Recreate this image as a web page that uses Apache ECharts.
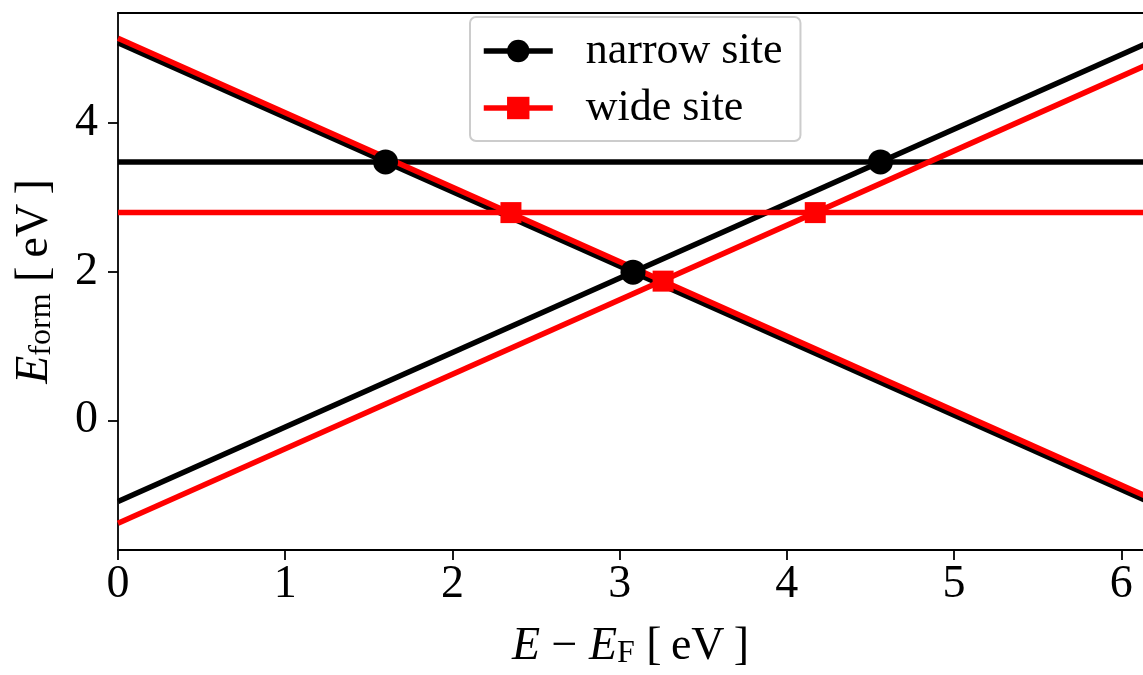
<!DOCTYPE html>
<html>
<head>
<meta charset="utf-8">
<script src="https://cdn.jsdelivr.net/npm/echarts@6/dist/echarts.min.js"></script>
<style>
  html, body { margin: 0; padding: 0; background: #fff; }
  #chart { width: 1143px; height: 675px; }
</style>
</head>
<body>
<div id="chart"></div>
<script>
// Formation energy of the two sites versus Fermi level position
const xEnds = [0, 6.2];

// narrow site: falling branch, rising branch, flat branch
const narrowFalling = [5.07, -1.13];
const narrowRising = [-1.09, 5.11];
const narrowFlat = [3.47, 3.47];
const narrowCrossings = [[1.60, 3.47], [3.08, 1.99], [4.56, 3.47]];

// wide site
const wideFalling = [5.13, -1.07];
const wideRising = [-1.38, 4.82];
const wideFlat = [2.79, 2.79];
const wideCrossings = [[2.35, 2.79], [3.26, 1.87], [4.17, 2.79]];

const xTicks = [0, 1, 2, 3, 4, 5, 6];
const yTicks = [0, 2, 4];

const FONT = 'Liberation Serif';
const BLACK = '#000000';
const RED = '#ff0000';
const LINE_W = 5.5;

function pairs(ys) {
  return xEnds.map((x, i) => [x, ys[i]]);
}

function lineSeries(name, ys, color, symbol, z) {
  return {
    name: name,
    type: 'line',
    data: pairs(ys),
    symbol: symbol,
    showSymbol: false,
    symbolSize: 22,
    itemStyle: { color: color },
    lineStyle: { color: color, width: LINE_W },
    clip: true,
    silent: true,
    animation: false,
    z: z
  };
}

function markerSeries(name, pts, color, symbol, size) {
  return {
    name: name,
    type: 'scatter',
    data: pts,
    symbol: symbol,
    symbolSize: size,
    itemStyle: { color: color, opacity: 1 },
    silent: true,
    animation: false,
    z: 10
  };
}

const chart = echarts.init(document.getElementById('chart'), null, { renderer: 'canvas' });

chart.setOption({
  backgroundColor: '#ffffff',
  animation: false,
  grid: { left: 118, right: 0, top: 13, bottom: 125, containLabel: false },
  legend: {
    data: ['narrow site', 'wide site'],
    orient: 'vertical',
    left: 470,
    top: 17,
    itemWidth: 69,
    itemHeight: 28,
    itemGap: 13,
    padding: [12, 18, 11, 11],
    backgroundColor: 'rgba(255,255,255,0.85)',
    borderColor: '#cccccc',
    borderWidth: 2,
    borderRadius: 6,
    lineStyle: { width: LINE_W },
    textStyle: {
      fontFamily: FONT,
      fontSize: 44,
      color: BLACK,
      padding: [0, 0, 0, 28]
    }
  },
  xAxis: [
    {
      type: 'value',
      min: 0,
      max: 6.13,
      interval: 1,
      position: 'bottom',
      splitLine: { show: false },
      axisLine: { show: true, onZero: false, lineStyle: { color: BLACK, width: 1.8 } },
      axisTick: { show: true, customValues: xTicks, length: 10, inside: false, lineStyle: { color: BLACK, width: 1.8 } },
      axisLabel: {
        customValues: xTicks,
        margin: 12,
        fontFamily: FONT,
        fontSize: 46,
        color: BLACK
      },
      name: '{i|E} − {i|E}{sub|F} [\u2009eV\u2009]',
      nameLocation: 'middle',
      nameGap: 74,
      nameTextStyle: {
        fontFamily: FONT,
        fontSize: 46,
        color: BLACK,
        rich: {
          i: { fontFamily: FONT, fontStyle: 'italic', fontSize: 46, color: BLACK },
          sub: { fontFamily: FONT, fontSize: 32, color: BLACK, verticalAlign: 'bottom', padding: [14, 0, 0, 0] }
        }
      }
    },
    {
      type: 'value',
      min: 0,
      max: 6.13,
      position: 'top',
      splitLine: { show: false },
      axisLine: { show: true, onZero: false, lineStyle: { color: BLACK, width: 1.8 } },
      axisTick: { show: false },
      axisLabel: { show: false }
    }
  ],
  yAxis: {
    type: 'value',
    min: -1.74,
    max: 5.47,
    interval: 2,
    splitLine: { show: false },
    axisLine: { show: true, onZero: false, lineStyle: { color: BLACK, width: 1.8 } },
    axisTick: { show: true, customValues: yTicks, length: 10, inside: false, lineStyle: { color: BLACK, width: 1.8 } },
    axisLabel: {
      customValues: yTicks,
      margin: 20,
      fontFamily: FONT,
      fontSize: 46,
      color: BLACK
    },
    name: '{i|E}{sub|form} [\u2009eV\u2009]',
    nameLocation: 'middle',
    nameRotate: 90,
    nameGap: 60,
    nameTextStyle: {
      fontFamily: FONT,
      fontSize: 46,
      color: BLACK,
      rich: {
        i: { fontFamily: FONT, fontStyle: 'italic', fontSize: 46, color: BLACK },
        sub: { fontFamily: FONT, fontSize: 32, color: BLACK, verticalAlign: 'bottom', padding: [14, 0, 0, 0] }
      }
    }
  },
  series: [
    lineSeries('narrow site', narrowFalling, BLACK, 'circle', 2),
    lineSeries('narrow site', narrowRising, BLACK, 'circle', 2),
    lineSeries('narrow site', narrowFlat, BLACK, 'circle', 2),
    lineSeries('wide site', wideFalling, RED, 'rect', 3),
    lineSeries('wide site', wideRising, RED, 'rect', 3),
    lineSeries('wide site', wideFlat, RED, 'rect', 3),
    markerSeries('narrow crossings', narrowCrossings, BLACK, 'circle', 25),
    markerSeries('wide crossings', wideCrossings, RED, 'rect', 21)
  ]
});
</script>
</body>
</html>
